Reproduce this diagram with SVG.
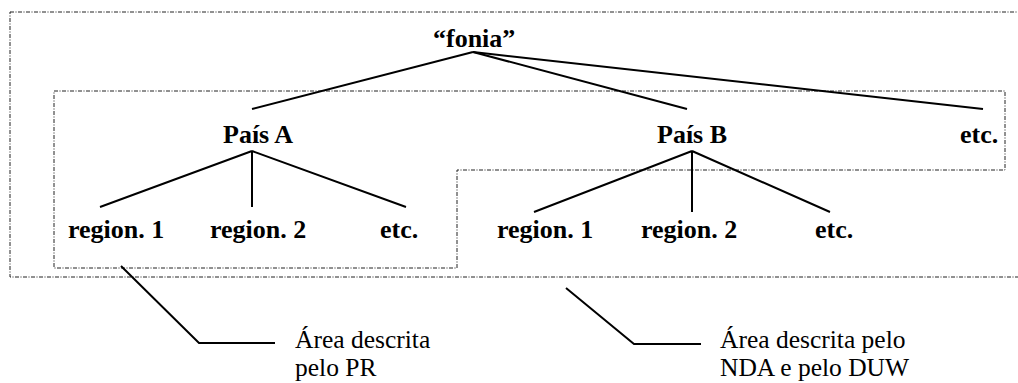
<svg xmlns="http://www.w3.org/2000/svg" width="1018" height="383" viewBox="0 0 1018 383">
  <style>
    .area { fill: none; stroke: #222; stroke-width: 1; stroke-dasharray: 4 1.5 1 1.5; }
    .edge { fill: none; stroke: #000; stroke-width: 2; }
    .lbl { font-family: "Liberation Serif", "Times New Roman", serif; font-size: 26px; font-weight: bold; fill: #000; }
    .note { font-family: "Liberation Serif", "Times New Roman", serif; font-size: 25.5px; fill: #000; }
  </style>
  <rect width="1018" height="383" fill="#fff"/>

  <!-- dash-dot area outlines -->
  <g id="areas">
    <path class="area" d="M10,12 H1030 V277 H10 Z"/>
    <path class="area" d="M54,91 H1005 V170 H457 V268 H54 Z"/>
  </g>

  <!-- connectors -->
  <g id="connectors">
    <path class="edge" d="M473,52 L252,109"/>
    <path class="edge" d="M473,52 L687,109"/>
    <path class="edge" d="M473,52 L983,109"/>
    <path class="edge" d="M252,151 L100,207 M252,151 V207 M252,151 L406,207"/>
    <path class="edge" d="M692,151 L534,212 M692,151 V212 M692,151 L830,212"/>
    <path class="edge" d="M121,266 L199,343 H275"/>
    <path class="edge" d="M566,288 L634,344 H701"/>
  </g>

  <g id="root"><text class="lbl" x="433" y="47">“fonia”</text></g>
  <g id="pais-a"><text class="lbl" x="223" y="143">País A</text></g>
  <g id="pais-b"><text class="lbl" x="657" y="143">País B</text></g>
  <g id="etc-top"><text class="lbl" x="960" y="143">etc.</text></g>

  <g id="a-region1"><text class="lbl" x="68" y="238">region. 1</text></g>
  <g id="a-region2"><text class="lbl" x="210" y="238">region. 2</text></g>
  <g id="a-etc"><text class="lbl" x="380" y="238">etc.</text></g>

  <g id="b-region1"><text class="lbl" x="497" y="238">region. 1</text></g>
  <g id="b-region2"><text class="lbl" x="641" y="238">region. 2</text></g>
  <g id="b-etc"><text class="lbl" x="815" y="238">etc.</text></g>

  <g id="note-pr">
    <text class="note" x="295" y="348">Área descrita</text>
    <text class="note" x="295" y="376">pelo PR</text>
  </g>
  <g id="note-nda">
    <text class="note" x="720" y="348">Área descrita pelo</text>
    <text class="note" x="720" y="376">NDA e pelo DUW</text>
  </g>
</svg>
